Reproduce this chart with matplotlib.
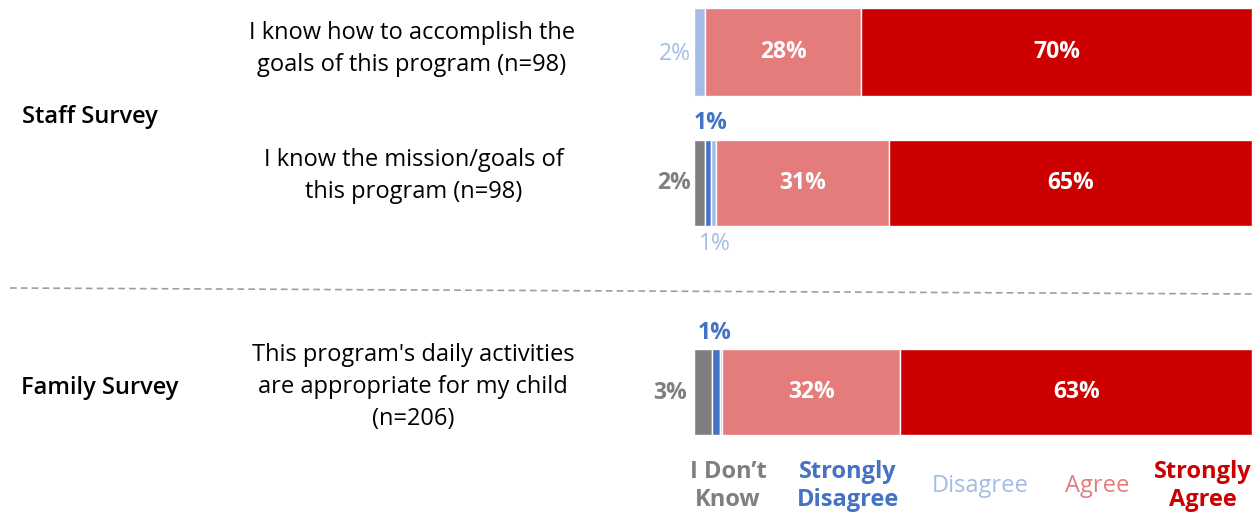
import matplotlib.pyplot as plt

# response categories and colours
categories = ["I Don\u2019t\nKnow", "Strongly\nDisagree", "Disagree", "Agree", "Strongly\nAgree"]
colors = ["#7f7f7f", "#4472c4", "#a4bce4", "#e47c7c", "#cc0000"]

questions = [
    "I know how to accomplish the\ngoals of this program (n=98)",
    "I know the mission/goals of\nthis program (n=98)",
    "This program's daily activities\nare appropriate for my child\n(n=206)",
]
groups = ["Staff Survey", "Family Survey"]

# percent per category (dont know, strongly disagree, disagree, agree, strongly agree)
staff_q1 = [0, 0, 2, 28, 70]
staff_q2 = [2, 1, 1, 31, 65]
family_q1 = [3.3, 1.3, 0.4, 32, 63]
values = [staff_q1, staff_q2, family_q1]
labels = [["", "", "2%", "28%", "70%"],
          ["2%", "1%", "1%", "31%", "65%"],
          ["3%", "1%", "", "32%", "63%"]]

W, H = 1257, 512
fig = plt.figure(figsize=(W / 100, H / 100), dpi=100)
plt.rcParams['font.family'] = ['Open Sans', 'DejaVu Sans']

# overlay axes in pixel units for the text
ov = fig.add_axes([0, 0, 1, 1])
ov.set_xlim(0, W)
ov.set_ylim(H, 0)
ov.axis("off")

# bar axes: x in percent, y in pixels
ax = fig.add_axes([694 / W, 0, 558 / W, 1])
ax.set_xlim(0, 100)
ax.set_ylim(H, 0)
ax.axis("off")

bar_y = [52, 183, 392]
bar_h = [88, 86, 86]
fs = 17
fs_pct = 16.5

for i, vals in enumerate(values):
    left = 0
    for j, v in enumerate(vals):
        if v > 0:
            ax.barh(bar_y[i], v, left=left, height=bar_h[i], color=colors[j],
                    edgecolor="white", linewidth=1)
        lab = labels[i][j]
        if lab and v >= 10:
            ax.text(left + v / 2, bar_y[i], lab, ha="center", va="center",
                    color="white", fontsize=fs_pct, fontweight="bold")
        left += v

# small labels outside the bars
ov.text(691, 54, labels[0][2], ha="right", va="center", color=colors[2], fontsize=fs_pct)
ov.text(711, 123, labels[1][1], ha="center", va="center", color=colors[1], fontsize=fs_pct, fontweight="bold")
ov.text(691, 183, labels[1][0], ha="right", va="center", color=colors[0], fontsize=fs_pct, fontweight="bold")
ov.text(715, 244, labels[1][2], ha="center", va="center", color=colors[2], fontsize=fs_pct)
ov.text(715, 333, labels[2][1], ha="center", va="center", color=colors[1], fontsize=fs_pct, fontweight="bold")
ov.text(687, 393, labels[2][0], ha="right", va="center", color=colors[0], fontsize=fs_pct, fontweight="bold")

# question text
q_pos = [(412, 49), (414, 176), (413, 387)]
for q, (x, y) in zip(questions, q_pos):
    ov.text(x, y, q, ha="center", va="center", fontsize=fs, color="black", linespacing=1.42)

# group labels
ov.text(22, 117, groups[0], ha="left", va="center", fontsize=fs, fontweight="semibold")
ov.text(21, 388, groups[1], ha="left", va="center", fontsize=fs, fontweight="semibold")

# divider
ov.plot([10, 1253], [288, 294], color="#9e9e9e", linestyle=(0, (4, 2.5)), linewidth=1.2)

# legend under the bars
leg_x = [728, 848, 980, 1097, 1203]
leg_bold = [True, True, False, False, True]
for c, x, col, b in zip(categories, leg_x, colors, leg_bold):
    ov.text(x, 486, c, ha="center", va="center", color=col, fontsize=fs,
            fontweight="bold" if b else "normal", linespacing=1.2)

fig.savefig("out.png", dpi=100)
